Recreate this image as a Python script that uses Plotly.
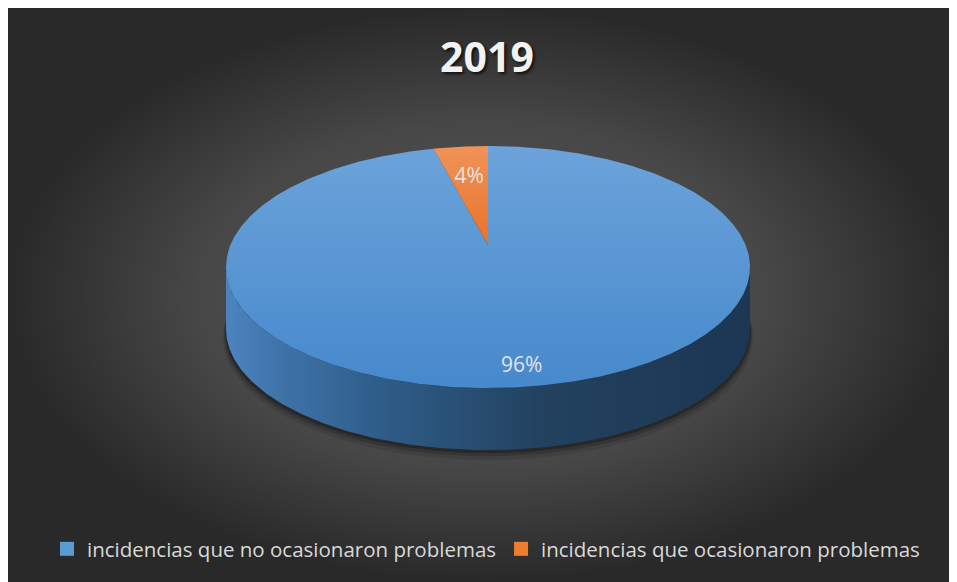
import numpy as np
import plotly.graph_objects as go

# ---------------- data ----------------
categories = ["incidencias que no ocasionaron problemas",
              "incidencias que ocasionaron problemas"]
values = [96, 4]
title_text = "2019"

# ---------------- style ----------------
OFF = 8                            # page body margin (px), screen = data coords
W, H = 957 - OFF, 582 - OFF        # figure size
CX, CY = 488, 245                  # projected pie centre (screen px)
A, B, K = 257.6, 117.0, -0.182     # perspective ellipse parameters
DEPTH = 62                         # pie thickness (px)
label_r = [0.88, 0.65]             # label radius fraction per slice

top_scales = [
    [[0, "#4689cc"], [1, "#6ca3da"]],
    [[0, "#ea7226"], [1, "#f0935a"]],
]
side_scales = [
    [[0, "#4c84c0"], [0.12, "#3d71a6"], [0.3, "#2f5c88"], [0.6, "#22425f"], [1, "#1c3653"]],
    [[0, "#c0602a"], [1, "#7a3a15"]],
]
legend_colors = ["#5b9bd5", "#ed7d31"]


def proj(r, theta_deg, dy=0.0):
    th = np.radians(theta_deg)
    x = r * np.sin(th)
    y = -r * np.cos(th)
    w = 1 + K * y
    return CX + A * x / w, CY + B * y / w + dy


def py_paper(screen_y):
    return 1 - (screen_y - OFF) / H


fig = go.Figure()

# background with radial gradient (whole figure)
fig.add_trace(go.Scatter(
    x=[OFF, OFF + W, OFF + W, OFF, OFF], y=[OFF, OFF, OFF + H, OFF + H, OFF],
    mode="lines", fill="toself", line=dict(width=0),
    fillgradient=dict(type="radial",
                      colorscale=[[0, "#585858"], [0.6, "#474747"], [1, "#292929"]]),
    hoverinfo="skip", showlegend=False))

# shadow under the pie
full = np.linspace(0, 360, 361)
for off, op in [(8, 0.10), (5, 0.16), (2.5, 0.25)]:
    sx, sy = proj(1.0 + off / 700, full, DEPTH + off)
    fig.add_trace(go.Scatter(x=sx, y=sy, mode="lines", fill="toself",
                             fillcolor=f"rgba(0,0,0,{op})", line=dict(width=0),
                             hoverinfo="skip", showlegend=False))

total = sum(values)
angles = np.cumsum([0] + [v / total * 360 for v in values])

# visible front side range: where the projected ellipse is widest
th_r = np.degrees(np.arccos(K))
th_l = 360 - th_r

# side walls
for i in range(len(values)):
    a0, a1 = max(angles[i], th_r), min(angles[i + 1], th_l)
    if a1 <= a0:
        continue
    t = np.linspace(a0, a1, 200)
    x1, y1 = proj(1.0, t)
    x2, y2 = proj(1.0, t[::-1], DEPTH)
    fig.add_trace(go.Scatter(
        x=np.concatenate([x1, x2, x1[:1]]), y=np.concatenate([y1, y2, y1[:1]]),
        mode="lines", fill="toself", line=dict(width=0),
        fillgradient=dict(type="horizontal", colorscale=side_scales[i]),
        hoverinfo="skip", showlegend=False))

# top faces
for i in range(len(values)):
    t = np.linspace(angles[i], angles[i + 1], max(10, int(values[i] * 8)))
    ax, ay = proj(1.0, t)
    xs = np.concatenate([[CX], ax, [CX]])
    ys = np.concatenate([[CY], ay, [CY]])
    fig.add_trace(go.Scatter(
        x=xs, y=ys, mode="lines", fill="toself", line=dict(width=0),
        fillgradient=dict(type="vertical", colorscale=top_scales[i]),
        hoverinfo="skip", showlegend=False))

# data labels
lx, ly, lt = [], [], []
for i in range(len(values)):
    mid = (angles[i] + angles[i + 1]) / 2
    px, py = proj(label_r[i], mid)
    lx.append(px); ly.append(py)
    lt.append(f"{values[i] / total * 100:.0f}%")
fig.add_trace(go.Scatter(x=lx, y=ly, mode="text", text=lt,
                         textfont=dict(family="Open Sans", size=21, color="#e4e4e4"),
                         hoverinfo="skip", showlegend=False))

# legend entries
for cat, col in zip(categories, legend_colors):
    fig.add_trace(go.Scatter(x=[None], y=[None], mode="markers", name=cat,
                             marker=dict(symbol="square", size=14, color=col,
                                         line=dict(width=0))))

fig.update_layout(
    width=W, height=H,
    margin=dict(l=0, r=0, t=0, b=0),
    paper_bgcolor="white", plot_bgcolor="white",
    xaxis=dict(range=[OFF, OFF + W], visible=False, fixedrange=True),
    yaxis=dict(range=[OFF + H, OFF], visible=False, fixedrange=True),
    title=dict(text=f"<b>{title_text}</b>", x=(487 - OFF) / W, xanchor="center",
               y=py_paper(58), yanchor="middle",
               font=dict(family="Open Sans", size=41, color="#f2f2f2",
                         shadow="2px 2px 3px rgba(0,0,0,0.7)")),
    legend=dict(orientation="h", x=(486 - OFF) / W, xanchor="center",
                y=py_paper(549), yanchor="middle",
                font=dict(family="Open Sans", size=20.5, color="#d9d9d9"),
                bgcolor="rgba(0,0,0,0)", itemwidth=30, tracegroupgap=0),
    showlegend=True,
)

fig.write_html("out.html")
